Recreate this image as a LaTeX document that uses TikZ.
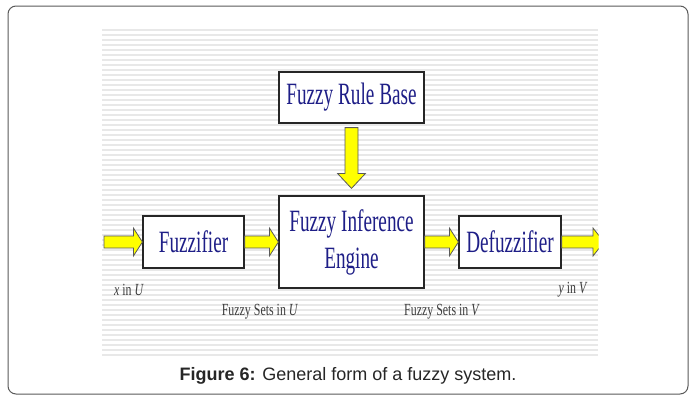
\documentclass[tikz,border=0pt]{standalone}
\usepackage{fontspec}
\setmainfont{Liberation Serif}
\newfontfamily\boxfont[FakeStretch=0.62]{Liberation Serif}
\newfontfamily\lblfont[FakeStretch=0.7]{Liberation Serif}
\newfontfamily\capfont{Liberation Sans}
\usetikzlibrary{calc}
\definecolor{navy}{RGB}{30,30,135}
\definecolor{arrowfill}{RGB}{255,255,0}
\definecolor{stripe}{RGB}{232,232,232}
\definecolor{framec}{RGB}{90,90,90}
\definecolor{lblc}{RGB}{60,60,60}
\newcommand\harrow[3]{%
  \draw[blk] let \p1=(#1),\p2=(#2) in
    (\x1,\y1+6pt) -- (\x2-#3,\y1+6pt) -- (\x2-#3,\y1+14pt) -- (\x2,\y1)
    -- (\x2-#3,\y1-14pt) -- (\x2-#3,\y1-6pt) -- (\x1,\y1-6pt) -- cycle;}
\begin{document}
\begin{tikzpicture}[x=1pt,y=-1pt,
  blockbox/.style={draw=black!85,line width=1.2pt,fill=white,inner sep=0pt,text=navy,
    font=\boxfont\fontsize{31}{37}\selectfont,align=center},
  blk/.style={fill=arrowfill,draw=black!65,line width=0.8pt,line join=miter},
  lbl/.style={text=lblc,font=\lblfont\fontsize{17}{20}\selectfont,inner sep=0pt}]
\useasboundingbox (0,0) rectangle (696,399);
\fill[white] (0,0) rectangle (696,399);
\draw[framec,line width=1pt,rounded corners=8pt] (8,6) rectangle (688,394);
\foreach \yy in {30,35,...,355} \draw[stripe,line width=2pt] (102,\yy) -- (598,\yy);
% boxes
\node[blockbox,minimum width=145pt,minimum height=51pt] (rule) at (351.5,97.5) {Fuzzy Rule Base};
\node[blockbox,minimum width=145pt,minimum height=92pt] (engine) at (351.5,242) {Fuzzy Inference\\Engine};
\node[blockbox,minimum width=101pt,minimum height=52pt] (fuzz) at (193.5,242) {Fuzzifier};
\node[blockbox,minimum width=102pt,minimum height=52pt] (defuzz) at (510,242) {Defuzzifier};
% arrows
\coordinate (in) at (104,242);
\coordinate (out) at (604,242);
\harrow{in}{fuzz.west}{9pt}
\harrow{fuzz.east}{engine.west}{9pt}
\harrow{engine.east}{defuzz.west}{9pt}
\begin{scope}
  \clip (102,0) rectangle (598.5,399);
  \harrow{defuzz.east}{out}{11pt}
\end{scope}
\draw[blk] let \p1=(rule.south),\p2=(engine.north) in
  (\x1-6.5pt,\y1-4pt) -- (\x1-6.5pt,\y2+22pt) -- (\x1-14pt,\y2+22pt) -- (\x1,\y2+7pt)
  -- (\x1+14pt,\y2+22pt) -- (\x1+6.5pt,\y2+22pt) -- (\x1+6.5pt,\y1-4pt) -- cycle;
% labels
\node[lbl] (xin) at (129,290) {\textit{x} in \textit{U}};
\node[lbl] (fsu) at (260,312) {Fuzzy Sets in \textit{U}};
\node[lbl] (fsv) at (442,312) {Fuzzy Sets in \textit{V}};
\node[lbl] (yin) at (573,290) {\textit{y} in \textit{V}};
% caption
\node[font=\capfont\fontsize{18}{21}\selectfont,text=black!85] (cap) at (348,376)
  {\textbf{Figure 6:} General form of a fuzzy system.};
\end{tikzpicture}
\end{document}
